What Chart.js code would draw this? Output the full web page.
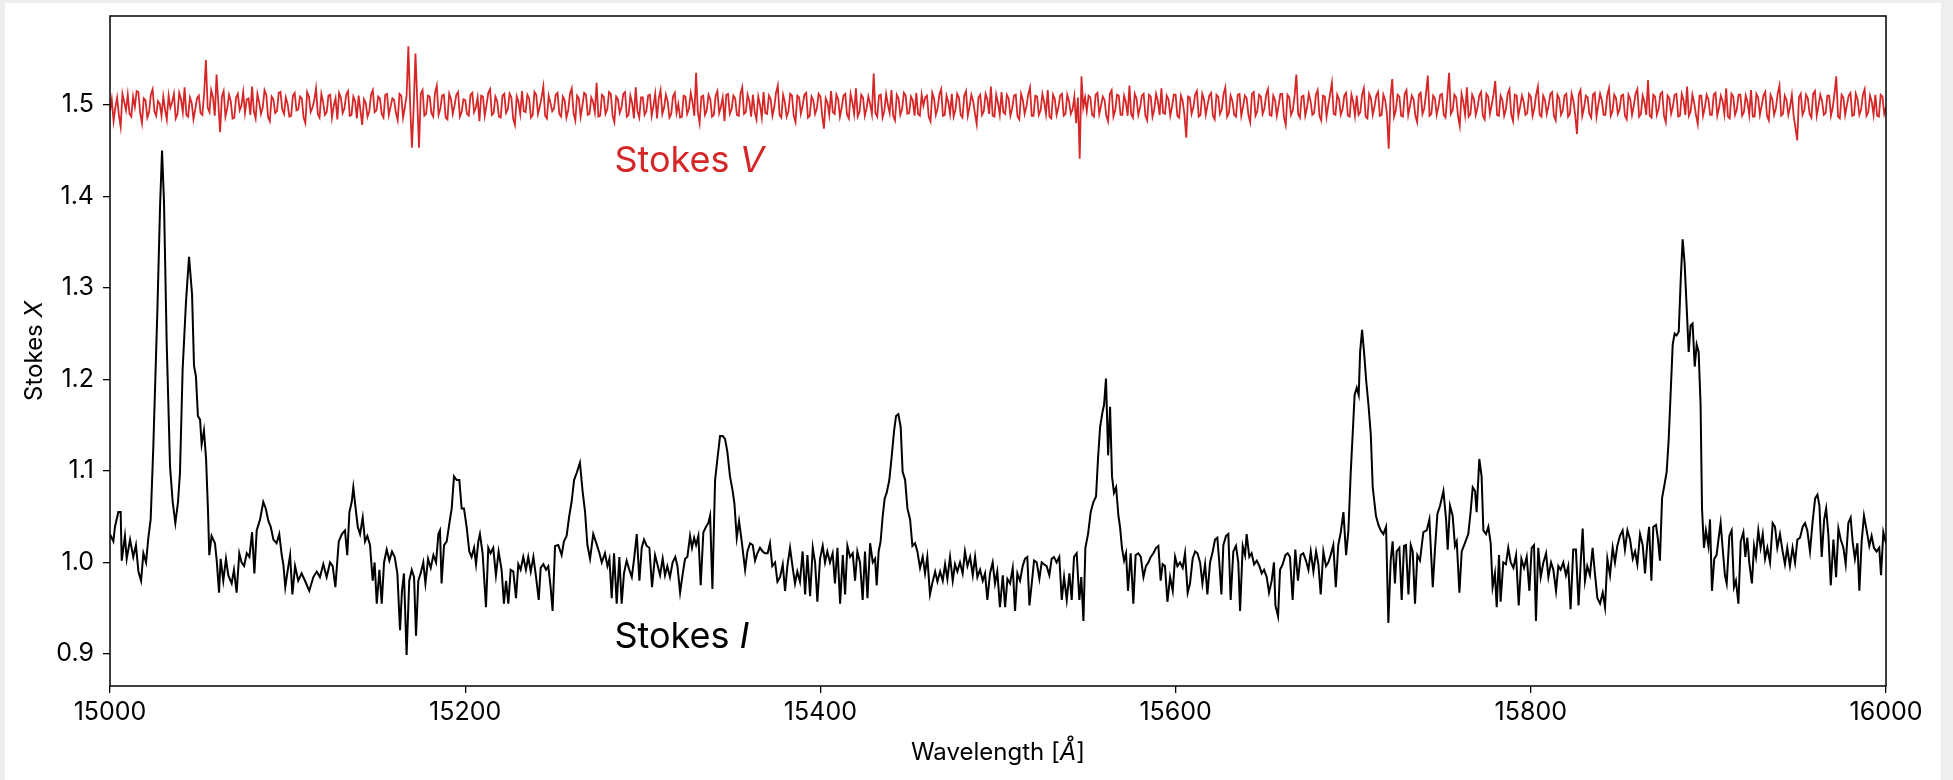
<!DOCTYPE html>
<html>
<head>
<meta charset="utf-8">
<script src="https://cdn.jsdelivr.net/npm/chart.js@4.4.0/dist/chart.umd.min.js"></script>
<style>
  html, body { margin: 0; padding: 0; background: #eeeeee; }
  #card { position: absolute; left: 5px; top: 3px; width: 1936px; height: 777px; background: #fff; }
  canvas { display: block; }
</style>
</head>
<body>
<div id="card"><canvas id="chart" width="1936" height="777" style="width:1936px;height:777px"></canvas></div>
<script>
const FONT = 'Inter';
const RED = '#d62728';

const xTicks = [15000, 15200, 15400, 15600, 15800, 16000];
const yTicks = [0.9, 1.0, 1.1, 1.2, 1.3, 1.4, 1.5];

// Stokes I (wavelength in Å)
const waveI = [
  15000.0,15001.9,15002.8,15004.7,15006.0,15006.6,15008.4,15009.4,15011.3,15013.1,15014.6,15016.0,
  15017.5,15018.8,15020.3,15021.6,15022.9,15024.4,15026.7,15028.2,15029.3,15030.4,15031.9,15033.8,
  15035.3,15036.8,15038.3,15039.4,15040.9,15042.8,15044.5,15046.2,15047.3,15048.4,15049.5,15050.7,
  15051.6,15052.9,15054.1,15055.2,15055.9,15057.2,15059.1,15060.1,15061.4,15062.3,15063.8,15065.3,
  15066.6,15068.5,15069.8,15071.3,15072.8,15074.1,15075.5,15077.0,15078.5,15080.0,15081.3,15082.6,
  15084.5,15086.3,15087.7,15089.2,15090.5,15092.0,15093.8,15095.3,15096.7,15097.6,15098.7,15099.8,
  15101.4,15102.7,15104.2,15106.0,15107.9,15109.8,15112.2,15114.5,15116.4,15118.2,15120.1,15122.0,
  15123.9,15125.4,15126.9,15128.8,15130.6,15132.3,15133.6,15134.8,15136.1,15137.0,15138.3,15139.5,
  15140.8,15142.3,15143.6,15144.9,15146.4,15147.9,15149.0,15150.2,15151.7,15153.0,15154.3,15155.8,
  15157.3,15158.8,15160.3,15161.8,15163.3,15164.4,15165.5,15167.0,15168.5,15169.9,15171.2,15172.3,
  15173.6,15174.9,15176.4,15177.6,15179.1,15180.6,15182.1,15183.6,15184.9,15185.8,15186.7,15188.1,
  15189.6,15191.1,15192.4,15193.7,15195.2,15196.7,15198.0,15199.3,15200.8,15202.3,15203.6,15205.0,
  15206.1,15207.4,15208.3,15209.8,15211.7,15213.0,15214.3,15215.8,15217.3,15218.8,15220.5,15221.8,
  15223.0,15224.3,15225.6,15227.1,15228.6,15229.9,15231.2,15232.7,15234.2,15235.5,15236.9,15238.4,
  15239.9,15241.4,15242.5,15244.0,15245.5,15246.8,15248.1,15249.2,15250.6,15252.4,15254.3,15255.6,
  15257.1,15258.6,15259.9,15261.3,15262.8,15264.6,15266.1,15267.5,15268.8,15270.3,15272.1,15274.0,
  15275.6,15276.9,15278.7,15280.1,15281.2,15282.5,15283.8,15285.3,15286.8,15288.1,15289.4,15290.9,
  15292.4,15293.8,15295.1,15296.6,15298.1,15299.4,15300.7,15302.2,15303.7,15305.2,15306.9,15308.2,
  15309.7,15311.2,15312.5,15313.8,15315.3,15316.8,15318.3,15319.5,15321.0,15322.5,15323.8,15325.1,
  15326.6,15327.7,15328.9,15330.0,15331.3,15332.6,15334.1,15335.6,15336.9,15337.9,15339.2,15340.7,
  15342.0,15343.5,15345.0,15346.3,15347.6,15349.1,15350.6,15351.6,15352.9,15354.2,15355.7,15357.6,
  15358.9,15360.4,15361.9,15363.2,15364.5,15366.0,15367.5,15368.8,15370.3,15371.6,15372.9,15374.5,
  15375.8,15377.3,15378.8,15380.1,15381.4,15382.9,15384.4,15385.7,15387.0,15388.5,15390.0,15391.4,
  15392.7,15394.2,15395.7,15397.0,15398.3,15399.8,15401.3,15402.6,15403.9,15405.4,15406.9,15408.2,
  15409.6,15411.1,15412.6,15413.9,15415.2,15416.7,15418.2,15419.5,15420.8,15422.3,15423.8,15425.1,
  15426.5,15428.0,15429.5,15430.8,15431.7,15432.8,15433.9,15435.1,15436.2,15437.3,15438.8,15440.2,
  15441.5,15442.6,15443.9,15445.2,15446.3,15447.7,15449.0,15450.5,15451.8,15453.3,15454.6,15456.1,
  15457.6,15458.9,15460.2,15461.7,15463.2,15464.6,15465.9,15467.4,15468.9,15470.2,15471.5,15473.0,
  15474.5,15475.8,15477.1,15478.6,15480.1,15481.4,15482.8,15484.3,15485.8,15487.1,15488.4,15489.9,
  15491.4,15492.7,15494.0,15495.5,15497.0,15498.3,15499.6,15501.1,15502.7,15504.0,15505.3,15506.8,
  15508.3,15509.6,15510.9,15512.4,15513.9,15515.2,15516.5,15517.7,15519.0,15520.3,15521.8,15523.3,
  15524.6,15525.9,15527.4,15528.9,15530.2,15531.5,15533.0,15534.5,15535.9,15537.2,15538.7,15540.2,
  15541.5,15542.8,15544.3,15545.8,15546.9,15548.1,15549.2,15550.7,15552.2,15553.7,15555.2,15556.3,
  15557.5,15558.8,15559.7,15560.8,15562.0,15563.1,15564.2,15565.3,15566.5,15567.8,15568.7,15569.8,
  15571.0,15572.1,15573.2,15574.7,15576.2,15577.5,15579.0,15580.4,15581.9,15583.3,15584.7,15586.0,
  15587.5,15589.0,15590.3,15591.6,15592.7,15594.0,15595.4,15596.9,15598.4,15599.7,15601.0,15602.5,
  15604.0,15605.3,15606.8,15608.1,15609.6,15611.0,15612.3,15613.8,15615.1,15616.6,15617.9,15619.4,
  15620.9,15622.2,15623.5,15624.6,15625.8,15626.9,15628.4,15629.7,15631.0,15632.5,15634.0,15635.3,
  15636.3,15637.8,15639.1,15640.0,15641.5,15642.8,15644.2,15645.7,15647.2,15648.5,15649.8,15651.3,
  15652.6,15654.1,15655.4,15656.2,15657.7,15658.8,15660.3,15661.8,15663.1,15664.4,15665.9,15667.4,
  15668.9,15670.4,15671.9,15673.4,15674.8,15676.1,15677.6,15679.1,15680.4,15681.7,15683.2,15684.7,
  15686.0,15687.3,15688.8,15690.2,15691.6,15693.0,15694.5,15696.0,15697.3,15698.6,15699.7,15700.8,
  15702.0,15703.1,15703.9,15705.0,15706.1,15707.3,15708.6,15709.9,15711.0,15711.7,15712.8,15714.2,
  15715.5,15717.0,15718.5,15719.8,15721.1,15722.2,15723.5,15724.5,15726.0,15727.3,15728.6,15729.7,
  15731.1,15732.4,15733.5,15734.8,15736.1,15737.6,15739.5,15741.4,15742.9,15744.8,15746.1,15747.4,
  15748.9,15750.8,15752.3,15753.2,15754.5,15756.0,15757.3,15758.3,15759.8,15761.1,15762.9,15764.8,
  15766.1,15767.3,15768.6,15769.5,15771.0,15772.3,15773.3,15774.8,15776.1,15777.4,15778.5,15779.8,
  15780.8,15782.1,15783.0,15784.5,15786.0,15787.3,15788.7,15790.2,15791.7,15793.2,15794.7,15796.2,
  15797.7,15799.2,15800.5,15801.8,15802.9,15804.2,15805.6,15807.1,15808.6,15809.9,15811.4,15812.7,
  15814.2,15815.5,15816.8,15818.3,15819.8,15821.1,15822.4,15823.9,15825.4,15826.9,15828.1,15829.2,
  15830.5,15831.8,15833.3,15834.8,15836.1,15837.5,15839.0,15840.5,15841.8,15843.1,15844.6,15846.1,
  15847.4,15848.7,15850.2,15851.7,15853.0,15854.4,15855.9,15857.4,15858.7,15860.0,15861.5,15863.0,
  15864.3,15865.6,15866.6,15867.9,15869.0,15870.5,15871.6,15872.7,15873.9,15875.0,15876.5,15877.6,
  15878.7,15879.9,15881.0,15882.1,15883.3,15884.4,15885.5,15886.6,15887.8,15888.9,15890.0,15891.1,
  15892.3,15893.4,15894.5,15895.6,15896.4,15897.5,15898.6,15900.0,15900.9,15902.0,15903.3,15904.6,
  15905.8,15906.9,15908.0,15909.3,15910.3,15911.8,15913.1,15914.4,15915.5,15916.9,15918.2,15919.7,
  15920.8,15921.9,15923.0,15924.5,15925.7,15926.8,15928.1,15929.4,15930.6,15931.9,15933.2,15934.7,
  15936.2,15937.5,15938.8,15940.3,15941.8,15943.1,15944.4,15945.9,15947.4,15948.8,15950.1,15951.6,
  15953.1,15954.4,15955.7,15957.2,15958.7,15960.1,15961.4,15962.5,15963.8,15965.2,15966.3,15967.6,
  15968.9,15970.4,15971.9,15973.2,15974.5,15976.0,15977.3,15978.8,15980.1,15981.2,15982.5,15983.9,
  15985.0,15986.3,15987.6,15989.1,15990.6,15991.9,15993.2,15994.7,15996.2,15997.2,15998.5,16000.0
];
const stokesI = [
  1.031,1.023,1.039,1.055,1.055,1.002,1.029,1.004,1.025,1.006,1.019,0.990,
  0.980,1.010,1.000,1.027,1.047,1.127,1.277,1.390,1.450,1.394,1.242,1.105,
  1.066,1.043,1.066,1.098,1.211,1.285,1.334,1.293,1.215,1.203,1.160,1.156,
  1.129,1.144,1.113,1.055,1.008,1.029,1.021,1.002,0.967,1.004,0.980,1.004,
  0.986,0.977,0.992,0.967,1.010,1.000,0.996,1.010,1.006,1.033,0.988,1.035,
  1.047,1.066,1.059,1.045,1.039,1.025,1.021,1.031,1.008,0.998,0.973,0.988,
  1.008,0.965,0.996,0.980,0.988,0.980,0.969,0.984,0.990,0.984,0.998,0.984,
  1.000,0.996,0.973,1.023,1.031,1.035,1.008,1.055,1.066,1.082,1.059,1.039,
  1.031,1.049,1.023,1.029,1.019,0.980,1.000,0.955,0.992,0.955,1.000,1.014,
  1.002,1.012,1.006,0.988,0.926,0.969,0.988,0.899,0.980,0.992,0.984,0.920,
  0.980,0.988,1.000,0.977,1.004,0.994,1.008,1.000,1.031,1.035,0.977,1.019,
  1.023,1.043,1.059,1.094,1.090,1.090,1.059,1.059,1.039,1.012,1.006,1.016,
  0.998,1.023,1.031,1.010,0.951,1.016,1.010,1.016,0.986,1.012,0.992,0.955,
  0.980,0.955,0.992,0.990,0.961,0.998,0.992,1.006,0.992,1.006,0.990,1.006,
  0.984,0.959,0.994,0.998,0.992,0.996,0.973,0.947,1.018,1.019,1.008,1.023,
  1.029,1.051,1.066,1.090,1.098,1.109,1.078,1.055,1.019,1.004,1.031,1.020,
  1.010,1.000,1.010,0.996,1.004,0.961,1.010,0.955,1.006,0.955,0.988,1.002,
  0.992,0.984,1.004,1.031,0.980,1.016,1.025,1.018,1.016,0.973,1.008,0.998,
  0.986,1.004,0.986,0.996,0.984,1.000,1.006,0.996,0.967,0.988,1.004,1.006,
  1.029,1.016,1.027,1.019,1.029,0.975,1.033,1.039,1.043,1.051,0.971,1.090,
  1.113,1.138,1.138,1.135,1.121,1.094,1.078,1.064,1.027,1.045,1.023,0.992,
  1.012,1.021,1.019,1.002,1.010,1.016,1.012,1.010,1.010,1.021,0.996,1.000,
  0.979,0.984,0.998,0.969,0.996,1.016,0.994,0.977,0.990,0.979,1.012,0.965,
  1.008,0.963,1.016,1.000,0.957,1.004,1.018,1.000,1.012,1.000,1.010,0.977,
  1.016,0.955,1.008,0.965,1.018,1.006,1.010,0.980,1.012,1.000,0.959,1.012,
  0.961,1.021,1.000,1.004,0.975,1.012,1.023,1.051,1.070,1.076,1.090,1.117,
  1.144,1.160,1.162,1.148,1.099,1.090,1.059,1.047,1.018,1.021,1.012,0.994,
  1.006,0.988,1.006,0.965,0.979,0.990,0.979,0.990,0.980,0.998,0.982,1.006,
  0.980,0.998,0.990,1.000,0.988,1.012,0.996,1.006,0.986,1.006,0.984,0.992,
  0.980,0.988,0.959,0.988,1.000,0.977,0.990,0.951,0.986,0.951,0.982,0.977,
  0.994,0.947,0.988,0.980,0.996,1.004,1.006,0.953,0.977,1.002,1.000,0.982,
  1.000,0.998,0.996,0.986,1.004,1.006,1.000,1.006,0.959,0.984,0.959,0.988,
  0.959,1.006,1.010,0.959,0.984,0.936,1.016,1.031,1.055,1.066,1.072,1.113,
  1.148,1.164,1.172,1.201,1.117,1.170,1.094,1.076,1.082,1.051,1.039,1.016,
  1.002,1.010,0.969,1.010,0.955,1.008,1.010,1.006,0.984,0.996,1.000,1.006,
  1.010,1.016,1.018,0.980,0.998,0.996,0.957,0.984,0.969,1.006,0.996,1.000,
  0.994,1.010,0.967,0.977,1.004,1.012,1.010,1.000,0.977,0.998,0.965,1.000,
  1.012,1.025,1.027,1.000,0.965,1.019,1.029,1.031,0.959,1.012,1.018,1.000,
  0.947,1.018,1.008,1.031,1.006,1.010,0.998,1.002,0.996,0.988,0.992,0.984,
  0.967,0.980,1.000,0.953,0.941,0.992,0.998,1.008,1.010,1.006,0.959,1.014,
  0.980,1.008,1.010,1.002,0.992,1.012,0.990,1.012,0.998,0.965,1.012,0.996,
  1.000,1.008,1.019,0.973,1.019,1.033,1.055,1.008,1.035,1.098,1.140,1.183,
  1.191,1.183,1.230,1.254,1.230,1.199,1.172,1.140,1.082,1.070,1.051,1.041,
  1.035,1.031,1.039,0.934,1.002,1.023,0.977,1.012,1.016,0.959,1.018,1.019,
  0.965,1.019,1.012,0.955,1.008,1.002,1.033,1.035,1.047,0.973,1.016,1.053,
  1.062,1.078,1.047,1.014,1.062,1.051,1.018,1.023,0.967,1.012,1.021,1.031,
  1.055,1.082,1.078,1.055,1.113,1.094,1.035,1.031,1.039,1.021,0.973,0.988,
  0.951,1.008,0.957,1.000,0.998,1.016,1.000,0.994,1.008,0.953,1.004,0.994,
  1.006,0.969,1.016,1.019,0.936,1.016,0.984,1.000,1.010,0.984,1.000,0.992,
  0.969,0.996,0.992,1.000,0.986,0.996,0.949,1.014,1.014,0.953,1.000,1.037,
  0.980,0.996,0.986,1.016,0.988,0.961,0.955,0.967,0.951,1.004,0.986,1.016,
  1.000,1.018,1.029,1.035,1.014,1.035,1.025,1.004,1.012,0.998,1.031,1.019,
  0.988,1.021,1.039,0.980,1.039,1.041,1.025,1.002,1.070,1.082,1.099,1.133,
  1.183,1.238,1.250,1.248,1.252,1.308,1.353,1.327,1.277,1.230,1.259,1.261,
  1.214,1.238,1.230,1.172,1.059,1.016,1.035,1.018,1.047,0.969,1.004,1.008,
  1.027,1.043,1.016,0.986,0.977,1.029,1.035,0.973,0.980,0.955,1.023,1.033,
  1.006,1.027,1.000,0.977,1.018,1.006,1.035,1.016,1.031,1.004,1.016,1.000,
  1.043,1.039,1.016,1.031,1.012,0.998,1.016,0.996,1.016,1.000,1.025,1.027,
  1.039,1.043,1.035,1.012,1.045,1.070,1.074,1.062,1.006,1.047,1.059,1.029,
  0.975,1.025,0.984,1.037,1.025,1.016,0.998,1.043,1.049,1.023,1.004,1.021,
  0.969,1.023,1.051,1.035,1.018,1.029,1.016,1.012,1.016,0.986,1.033,1.021
];

// Stokes V (offset to 1.5), one value per Å from 15000 Å, 50 per row
const stokesV = [
  1.493,1.506,1.482,1.497,1.508,1.489,1.476,1.512,1.503,1.494,1.511,1.490,1.487,1.509,1.498,1.515,1.514,1.491,1.480,1.507,1.505,1.486,1.492,1.511,1.517,1.493,1.488,1.504,1.501,1.488,1.509,1.495,1.484,1.510,1.497,1.503,1.512,1.485,1.490,1.513,1.506,1.492,1.519,1.489,1.487,1.508,1.502,1.484,1.495,1.507,
  1.510,1.491,1.489,1.512,1.549,1.497,1.492,1.516,1.508,1.488,1.533,1.502,1.470,1.509,1.515,1.487,1.496,1.511,1.504,1.485,1.486,1.508,1.512,1.494,1.499,1.514,1.491,1.506,1.507,1.489,1.520,1.493,1.485,1.512,1.503,1.490,1.497,1.516,1.511,1.487,1.482,1.509,1.506,1.491,1.493,1.513,1.514,1.495,1.490,1.508,
  1.501,1.487,1.488,1.510,1.513,1.494,1.495,1.509,1.507,1.486,1.480,1.514,1.509,1.492,1.497,1.505,1.518,1.490,1.486,1.512,1.503,1.489,1.492,1.510,1.511,1.486,1.499,1.507,1.484,1.513,1.508,1.491,1.496,1.511,1.515,1.488,1.489,1.509,1.504,1.485,1.510,1.494,1.478,1.506,1.502,1.487,1.493,1.511,1.516,1.492,
  1.494,1.509,1.507,1.490,1.486,1.511,1.512,1.489,1.498,1.507,1.505,1.491,1.483,1.512,1.510,1.486,1.497,1.510,1.564,1.500,1.453,1.498,1.556,1.505,1.453,1.512,1.516,1.488,1.490,1.510,1.509,1.491,1.487,1.513,1.521,1.489,1.496,1.510,1.511,1.486,1.484,1.512,1.506,1.490,1.499,1.511,1.514,1.487,1.492,1.506,
  1.505,1.490,1.488,1.511,1.513,1.492,1.497,1.508,1.482,1.510,1.509,1.488,1.500,1.513,1.517,1.489,1.491,1.509,1.504,1.487,1.486,1.510,1.512,1.491,1.495,1.512,1.508,1.485,1.478,1.509,1.503,1.490,1.515,1.493,1.492,1.511,1.507,1.486,1.489,1.514,1.511,1.490,1.498,1.508,1.520,1.488,1.485,1.510,1.502,1.493,
  1.496,1.511,1.513,1.490,1.487,1.509,1.505,1.486,1.494,1.512,1.518,1.491,1.483,1.510,1.507,1.487,1.499,1.513,1.511,1.489,1.490,1.508,1.503,1.492,1.524,1.487,1.488,1.511,1.509,1.490,1.495,1.514,1.512,1.488,1.481,1.509,1.506,1.491,1.497,1.512,1.514,1.487,1.489,1.510,1.502,1.485,1.519,1.493,1.486,1.508,
  1.508,1.489,1.493,1.510,1.511,1.488,1.499,1.512,1.485,1.507,1.516,1.490,1.497,1.511,1.504,1.486,1.490,1.509,1.513,1.491,1.501,1.486,1.487,1.510,1.509,1.490,1.496,1.513,1.503,1.488,1.535,1.492,1.480,1.509,1.510,1.489,1.494,1.511,1.506,1.487,1.489,1.510,1.515,1.491,1.498,1.508,1.482,1.511,1.512,1.490,
  1.495,1.510,1.507,1.489,1.488,1.512,1.519,1.490,1.492,1.511,1.504,1.487,1.511,1.492,1.484,1.509,1.500,1.486,1.514,1.491,1.490,1.510,1.506,1.488,1.497,1.513,1.521,1.489,1.486,1.511,1.503,1.487,1.493,1.512,1.510,1.488,1.481,1.510,1.508,1.490,1.499,1.511,1.513,1.486,1.488,1.509,1.505,1.490,1.496,1.512,
  1.509,1.488,1.474,1.507,1.502,1.489,1.515,1.492,1.490,1.511,1.506,1.487,1.497,1.510,1.512,1.489,1.485,1.512,1.503,1.490,1.518,1.487,1.492,1.511,1.508,1.488,1.496,1.509,1.501,1.490,1.534,1.491,1.487,1.510,1.511,1.486,1.493,1.512,1.500,1.491,1.516,1.488,1.483,1.511,1.507,1.489,1.495,1.513,1.510,1.490,
  1.491,1.509,1.505,1.488,1.513,1.490,1.488,1.511,1.499,1.508,1.510,1.487,1.482,1.513,1.507,1.489,1.496,1.511,1.517,1.488,1.489,1.510,1.503,1.490,1.512,1.487,1.494,1.512,1.508,1.489,1.486,1.510,1.515,1.488,1.498,1.511,1.504,1.491,1.479,1.508,1.511,1.489,1.493,1.512,1.506,1.490,1.520,1.488,1.487,1.511,
  1.502,1.489,1.514,1.492,1.490,1.511,1.507,1.488,1.496,1.510,1.511,1.487,1.484,1.512,1.505,1.490,1.498,1.511,1.519,1.488,1.488,1.510,1.509,1.489,1.494,1.512,1.503,1.490,1.516,1.487,1.485,1.511,1.506,1.489,1.497,1.510,1.512,1.488,1.490,1.511,1.504,1.490,1.495,1.509,1.480,1.508,1.441,1.531,1.497,1.508,
  1.493,1.510,1.508,1.489,1.487,1.511,1.513,1.490,1.499,1.509,1.505,1.488,1.482,1.512,1.516,1.487,1.494,1.511,1.510,1.489,1.489,1.510,1.503,1.488,1.521,1.490,1.486,1.512,1.507,1.489,1.497,1.510,1.512,1.488,1.483,1.511,1.509,1.487,1.495,1.512,1.504,1.489,1.518,1.491,1.490,1.510,1.506,1.488,1.498,1.511,
  1.511,1.488,1.486,1.510,1.504,1.489,1.464,1.509,1.508,1.490,1.497,1.511,1.515,1.487,1.489,1.512,1.506,1.489,1.500,1.510,1.513,1.488,1.484,1.511,1.509,1.490,1.495,1.512,1.519,1.487,1.491,1.510,1.504,1.489,1.487,1.511,1.512,1.488,1.498,1.510,1.507,1.489,1.481,1.512,1.514,1.488,1.493,1.511,1.509,1.490,
  1.496,1.511,1.517,1.489,1.488,1.510,1.505,1.488,1.499,1.512,1.512,1.487,1.478,1.511,1.508,1.489,1.494,1.510,1.533,1.490,1.486,1.509,1.510,1.488,1.497,1.512,1.504,1.489,1.491,1.511,1.516,1.488,1.483,1.510,1.509,1.487,1.500,1.512,1.524,1.490,1.489,1.511,1.506,1.489,1.495,1.510,1.513,1.488,1.487,1.511,
  1.503,1.488,1.510,1.489,1.492,1.511,1.518,1.487,1.485,1.512,1.507,1.489,1.498,1.510,1.514,1.488,1.489,1.511,1.505,1.490,1.452,1.509,1.528,1.487,1.494,1.511,1.509,1.488,1.487,1.512,1.516,1.489,1.499,1.510,1.506,1.488,1.481,1.511,1.513,1.490,1.496,1.512,1.532,1.488,1.490,1.510,1.507,1.489,1.498,1.511,
  1.512,1.489,1.486,1.510,1.535,1.490,1.494,1.511,1.508,1.488,1.477,1.512,1.503,1.489,1.519,1.487,1.490,1.511,1.506,1.489,1.497,1.510,1.514,1.488,1.484,1.512,1.509,1.490,1.500,1.511,1.526,1.489,1.488,1.510,1.505,1.488,1.495,1.512,1.517,1.489,1.482,1.511,1.510,1.488,1.498,1.510,1.503,1.489,1.491,1.512,
  1.509,1.488,1.496,1.511,1.520,1.489,1.487,1.510,1.505,1.490,1.499,1.512,1.514,1.488,1.483,1.511,1.507,1.489,1.494,1.510,1.512,1.487,1.490,1.512,1.504,1.489,1.468,1.511,1.516,1.488,1.497,1.510,1.508,1.490,1.486,1.511,1.513,1.487,1.500,1.512,1.505,1.489,1.489,1.510,1.518,1.488,1.493,1.511,1.507,1.490,
  1.495,1.510,1.511,1.488,1.484,1.511,1.506,1.489,1.499,1.512,1.517,1.487,1.490,1.510,1.503,1.489,1.527,1.488,1.486,1.511,1.509,1.489,1.496,1.512,1.514,1.488,1.481,1.510,1.507,1.490,1.498,1.511,1.512,1.487,1.488,1.512,1.505,1.489,1.520,1.488,1.493,1.511,1.502,1.489,1.479,1.510,1.510,1.488,1.497,1.511,
  1.506,1.489,1.489,1.511,1.513,1.488,1.497,1.510,1.504,1.490,1.518,1.487,1.485,1.512,1.509,1.489,1.495,1.511,1.511,1.488,1.492,1.510,1.503,1.489,1.516,1.487,1.487,1.512,1.508,1.489,1.499,1.510,1.514,1.488,1.483,1.511,1.506,1.489,1.496,1.512,1.521,1.488,1.490,1.510,1.505,1.489,1.498,1.511,1.488,1.475,
  1.461,1.508,1.512,1.489,1.494,1.511,1.507,1.490,1.486,1.512,1.515,1.488,1.499,1.511,1.504,1.489,1.491,1.510,1.510,1.488,1.497,1.512,1.531,1.487,1.485,1.511,1.508,1.489,1.500,1.510,1.513,1.488,1.489,1.512,1.506,1.489,1.495,1.511,1.517,1.488,1.492,1.510,1.503,1.489,1.511,1.488,1.487,1.511,1.509,1.490,
  1.497
];
const waveV = stokesV.map((_, i) => 15000 + i);

// text with an italic part, e.g. "Stokes " + "V"
function mixedText(ctx, parts, x, y, size, color, align) {
  ctx.fillStyle = color;
  ctx.textBaseline = 'alphabetic';
  ctx.textAlign = 'left';
  const fonts = parts.map(p => (p[1] ? 'italic ' : '') + size + 'px ' + FONT);
  const widths = parts.map((p, i) => { ctx.font = fonts[i]; return ctx.measureText(p[0]).width; });
  const total = widths.reduce((a, b) => a + b, 0);
  let cx = align === 'center' ? x - total / 2 : x;
  parts.forEach((p, i) => {
    ctx.font = fonts[i];
    ctx.fillText(p[0], cx, y);
    cx += widths[i];
  });
}

const decorations = {
  id: 'decorations',
  afterDraw(chart) {
    const { ctx, chartArea: a, scales: { x, y } } = chart;
    ctx.save();
    // axes frame
    ctx.strokeStyle = '#000';
    ctx.lineWidth = 1.5;
    ctx.strokeRect(a.left, a.top, a.right - a.left, a.bottom - a.top);

    // in-plot labels
    mixedText(ctx, [['Stokes ', false], ['V', true]], x.getPixelForValue(15284), y.getPixelForValue(1.427), 36, RED, 'left');
    mixedText(ctx, [['Stokes ', false], ['I', true]], x.getPixelForValue(15284), y.getPixelForValue(0.907), 36, '#000', 'left');

    // axis titles
    mixedText(ctx, [['Wavelength [', false], ['Å', true], [']', false]], (a.left + a.right) / 2, 757, 24, '#000', 'center');
    ctx.translate(37, (a.top + a.bottom) / 2);
    ctx.rotate(-Math.PI / 2);
    mixedText(ctx, [['Stokes ', false], ['X', true]], 0, 0, 24, '#000', 'center');
    ctx.restore();
  }
};

function makeChart() {
  const ctx = document.getElementById('chart').getContext('2d');
  new Chart(ctx, {
    type: 'line',
    data: {
      datasets: [
        {
          label: 'Stokes V',
          data: waveV.map((w, i) => ({ x: w, y: stokesV[i] })),
          borderColor: RED,
          borderWidth: 1.8,
          pointRadius: 0,
          tension: 0
        },
        {
          label: 'Stokes I',
          data: waveI.map((w, i) => ({ x: w, y: stokesI[i] })),
          borderColor: '#000',
          borderWidth: 2,
          pointRadius: 0,
          tension: 0
        }
      ]
    },
    options: {
      responsive: false,
      animation: false,
      events: [],
      layout: { padding: { left: 0, top: 13, right: 55, bottom: 0 } },
      plugins: { legend: { display: false }, tooltip: { enabled: false } },
      scales: {
        x: {
          type: 'linear',
          min: 15000,
          max: 16000,
          afterBuildTicks: s => { s.ticks = xTicks.map(v => ({ value: v })); },
          afterFit: s => { s.height = 94; s.paddingLeft = 0; s.paddingRight = 0; },
          grid: { drawOnChartArea: false, color: '#000', tickLength: 7, lineWidth: 1.3 },
          border: { display: false },
          ticks: {
            color: '#000',
            font: { family: FONT, size: 25 },
            padding: 4,
            maxRotation: 0,
            autoSkip: false,
            callback: v => String(v)
          }
        },
        y: {
          min: 0.865,
          max: 1.597,
          afterBuildTicks: s => { s.ticks = yTicks.map(v => ({ value: v })); },
          afterFit: s => { s.width = 105; s.paddingTop = 0; s.paddingBottom = 0; },
          grid: { drawOnChartArea: false, color: '#000', tickLength: 7, lineWidth: 1.3 },
          border: { display: false },
          ticks: {
            color: '#000',
            font: { family: FONT, size: 25 },
            padding: 9,
            callback: v => v.toFixed(1)
          }
        }
      }
    },
    plugins: [decorations]
  });
}

document.fonts.load('25px ' + FONT).then(makeChart, makeChart);
</script>
</body>
</html>
